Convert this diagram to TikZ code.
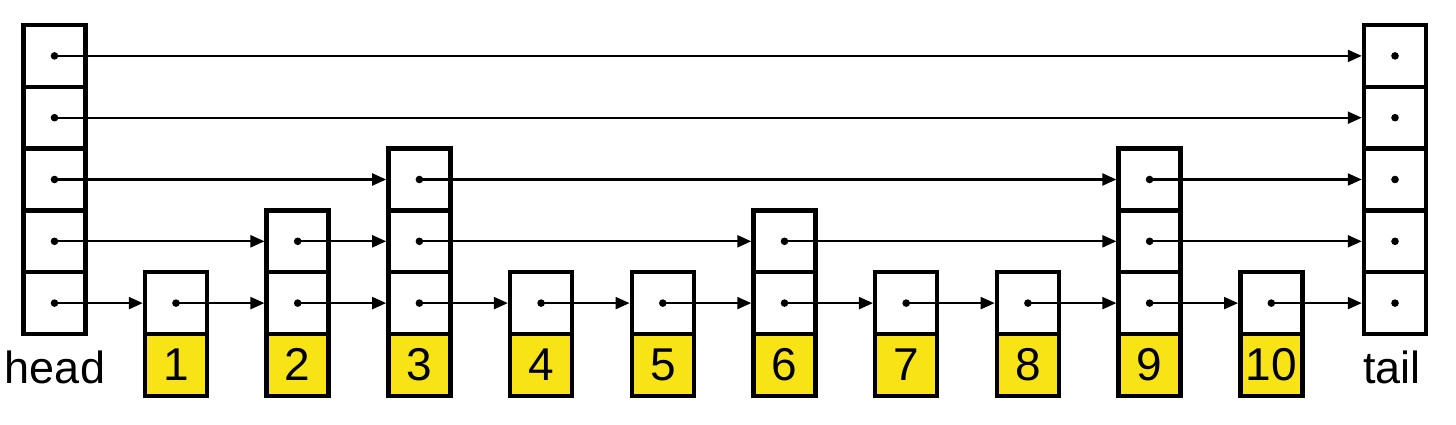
\documentclass[tikz,border=0pt]{standalone}
\usepackage{fontspec}
\setmainfont{Liberation Sans}
\usetikzlibrary{arrows.meta}
\definecolor{keyyellow}{HTML}{F8E416}
\begin{document}
\begin{tikzpicture}[x=1pt,y=-1pt,
  cell/.style={draw,line width=4.5pt,minimum width=62pt,minimum height=61.8pt,inner sep=0pt,outer sep=2.25pt,fill=white},
  keycell/.style={cell,fill=keyyellow,font=\fontsize{46}{54}\selectfont},
  ptr/.style={line width=2.2pt,-{Triangle[length=14pt,width=12pt]}},
  lbl/.style={font=\fontsize{45}{54}\selectfont,inner sep=0pt}]
\useasboundingbox (0,0) rectangle (1456,425);
% head and tail towers
\foreach \k in {1,...,5}{
  \node[cell] (h\k) at (54.5,{334-(\k-0.5)*61.8}) {};
  \node[cell] (t\k) at (1395,{334-(\k-0.5)*61.8}) {};
}
% element towers
\foreach \i/\lv in {1/1,2/2,3/3,4/1,5/1,6/2,7/1,8/1,9/3,10/1}{
  \node[keycell] (k\i) at ({176+121.7*(\i-1)},{334+0.5*61.8}) {\raisebox{-2pt}{\i}};
  \foreach \k in {1,...,\lv}{
    \node[cell] (n\i l\k) at ({176+121.7*(\i-1)},{334-(\k-0.5)*61.8}) {};
  }
}
\node[lbl,anchor=base] (headlbl) at (55,383) {head};
\node[lbl,anchor=base] (taillbl) at (1392,383) {tail};
% dots
\foreach \k in {1,...,5}{
  \fill (h\k.center) circle (3.8pt);
  \fill (t\k.center) circle (3.8pt);
}
\foreach \i/\lv in {1/1,2/2,3/3,4/1,5/1,6/2,7/1,8/1,9/3,10/1}{
  \foreach \k in {1,...,\lv}{
    \fill (n\i l\k.center) circle (3.8pt);
  }
}
% level 1
\draw[ptr] (h1.center) -- (n1l1.west);
\foreach \a/\b in {1/2,2/3,3/4,4/5,5/6,6/7,7/8,8/9,9/10}{
  \draw[ptr] (n\a l1.center) -- (n\b l1.west);
}
\draw[ptr] (n10l1.center) -- (t1.west);
% level 2
\draw[ptr] (h2.center) -- (n2l2.west);
\draw[ptr] (n2l2.center) -- (n3l2.west);
\draw[ptr] (n3l2.center) -- (n6l2.west);
\draw[ptr] (n6l2.center) -- (n9l2.west);
\draw[ptr] (n9l2.center) -- (t2.west);
% level 3
\draw[ptr] (h3.center) -- (n3l3.west);
\draw[ptr] (n3l3.center) -- (n9l3.west);
\draw[ptr] (n9l3.center) -- (t3.west);
% levels 4 and 5
\draw[ptr] (h4.center) -- (t4.west);
\draw[ptr] (h5.center) -- (t5.west);
\end{tikzpicture}
\end{document}
